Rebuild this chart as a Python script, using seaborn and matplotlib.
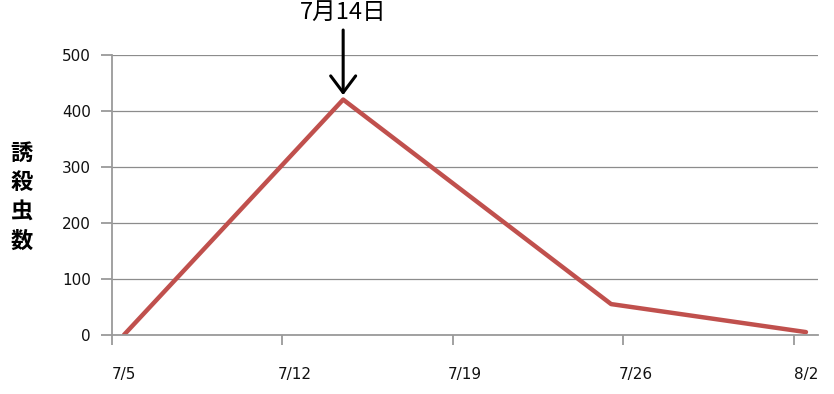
import matplotlib
matplotlib.use('Agg')
from matplotlib import pyplot as plt
import seaborn as sns
import pandas as pd

# trap counts
dates = ['7/5', '7/14', '7/25', '8/2']
counts = [0, 420, 55, 5]
tick_labels = ['7/5', '7/12', '7/19', '7/26', '8/2']
y_ticks = [0, 100, 200, 300, 400, 500]
peak_label = '7月14日'

sns.set_theme(style='white')
plt.rcParams['font.family'] = ['DejaVu Sans', 'Noto Sans CJK JP']

start = pd.Timestamp('2010-07-05')
to_day = lambda s: (pd.Timestamp('2010-' + s.replace('/', '-')) - start).days
# each day is drawn in the middle of its slot, like a spreadsheet date axis
df = pd.DataFrame({'day': [to_day(d) + 0.5 for d in dates], 'count': counts})

fig = plt.figure(figsize=(8.34, 3.94), dpi=100)
ax = fig.add_axes([0.134, 0.150, 0.847, 0.711])

sns.lineplot(x='day', y='count', data=df, ax=ax, color='#C0504D', linewidth=3.2)

ax.set_xlim(0, 29)
ax.set_ylim(0, 500)
ax.set_xticks([to_day(t) for t in tick_labels])
ax.set_xticklabels([])
ax.set_xticks([to_day(t) + 0.5 for t in tick_labels], minor=True)
ax.set_xticklabels(tick_labels, minor=True, family='DejaVu Sans')
ax.set_yticks(y_ticks)
ax.grid(axis='y', color='#8c8c8c', linewidth=0.9)
ax.set_axisbelow(True)

for s in ['top', 'right']:
    ax.spines[s].set_visible(False)
for s in ['left', 'bottom']:
    ax.spines[s].set_color('#9a9a9a')
    ax.spines[s].set_linewidth(1.3)

ax.tick_params(axis='x', which='major', bottom=True, direction='out', length=7,
               color='#9a9a9a', width=1.3)
ax.tick_params(axis='x', which='minor', bottom=True, length=0, pad=23,
               labelsize=11, labelcolor='#111111')
ax.tick_params(axis='y', left=True, direction='out', length=8, color='#9a9a9a', width=1.3,
               pad=7, labelsize=11, labelcolor='#111111')
for lab in ax.get_yticklabels():
    lab.set_family('DejaVu Sans')
ax.set_xlabel('')
ax.set_ylabel('')

fig.text(0.026, 0.50, '誘\n殺\n虫\n数', family=['Noto Sans CJK JP'], fontsize=16,
         fontweight='bold', ha='center', va='center', linespacing=1.35, color='black')

peak = df.loc[df['count'].idxmax()]
ax.annotate(peak_label, xy=(peak['day'], peak['count'] + 8), xytext=(peak['day'], 555),
            textcoords='data', ha='center', va='bottom', fontsize=17, color='black',
            family=['Noto Sans CJK JP'], annotation_clip=False,
            arrowprops=dict(arrowstyle='->, head_length=0.6, head_width=0.45', color='black',
                            lw=2.2, mutation_scale=20, shrinkA=2, shrinkB=0))

fig.savefig('out.png', dpi=100)
